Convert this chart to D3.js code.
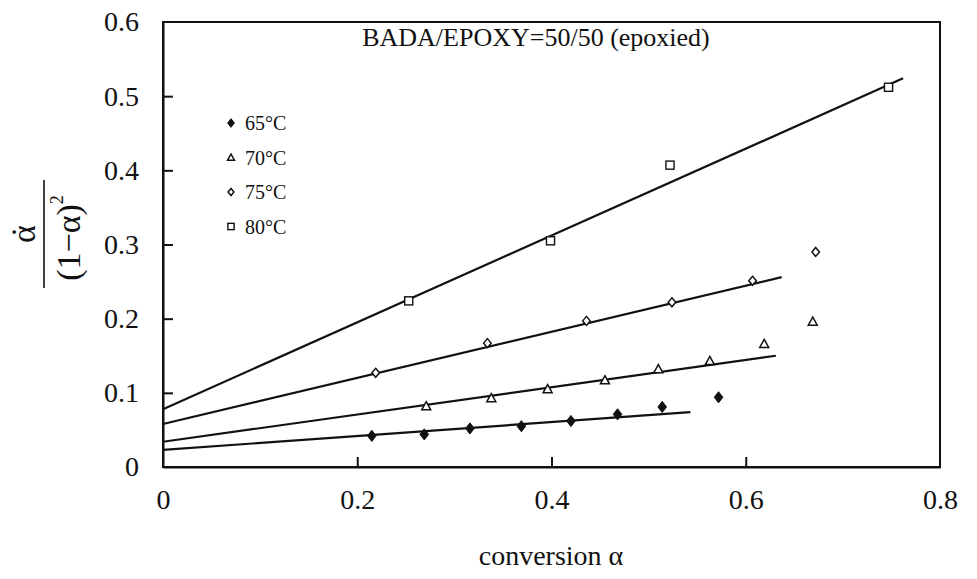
<!DOCTYPE html>
<html>
<head>
<meta charset="utf-8">
<script src="https://cdn.jsdelivr.net/npm/d3@7"></script>
<style>
  html, body { margin: 0; padding: 0; background: #fff; }
  svg text { font-family: "Liberation Serif", "Times New Roman", serif; fill: #111; }
</style>
</head>
<body>
<svg id="chart" width="977" height="579"></svg>
<script>
// ---- data ----
const seriesNames = ["65°C", "70°C", "75°C", "80°C"];
const x65 = [0.215, 0.269, 0.316, 0.369, 0.420, 0.468, 0.514, 0.572];
const y65 = [0.042, 0.044, 0.052, 0.055, 0.062, 0.071, 0.081, 0.094];
const x70 = [0.271, 0.338, 0.396, 0.455, 0.510, 0.563, 0.619, 0.669];
const y70 = [0.082, 0.093, 0.105, 0.117, 0.132, 0.143, 0.166, 0.196];
const x75 = [0.219, 0.334, 0.436, 0.524, 0.607, 0.672];
const y75 = [0.127, 0.167, 0.197, 0.222, 0.251, 0.290];
const x80 = [0.253, 0.399, 0.522, 0.747];
const y80 = [0.224, 0.305, 0.407, 0.512];
// fitted straight lines: value at alpha=0, end point
const fitY0 = [0.023, 0.034, 0.058, 0.078];
const fitX1 = [0.543, 0.631, 0.637, 0.762];
const fitY1 = [0.074, 0.150, 0.256, 0.524];
const xTicks = [0, 0.2, 0.4, 0.6, 0.8];
const yTicks = [0, 0.1, 0.2, 0.3, 0.4, 0.5, 0.6];
const titleText = "BADA/EPOXY=50/50 (epoxied)";
const xLabel = "conversion α";

// ---- layout ----
const L = 163, R = 940, T = 22, B = 467;
const svg = d3.select("#chart");
const x = d3.scaleLinear().domain([0, 0.8]).range([L, R]);
const y = d3.scaleLinear().domain([0, 0.6]).range([B, T]);

// frame
svg.append("rect").attr("x", L).attr("y", T).attr("width", R - L).attr("height", B - T)
  .attr("fill", "none").attr("stroke", "#111").attr("stroke-width", 2);

// axes (inward ticks)
const xAxis = d3.axisBottom(x).tickValues(xTicks).tickSizeInner(-10).tickSizeOuter(0)
  .tickPadding(22).tickFormat(d => d === 0 ? "0" : d3.format(".1f")(d));
const gx = svg.append("g").attr("transform", `translate(0,${B})`).call(xAxis);
gx.attr("font-family", null);
gx.select(".domain").attr("stroke", "#111").attr("stroke-width", 2);
gx.selectAll(".tick line").attr("stroke", "#111").attr("stroke-width", 2)
  .filter(d => d === 0 || d === 0.8).remove();
gx.selectAll(".tick text").attr("font-size", 28).attr("fill", "#111");

const yAxis = d3.axisLeft(y).tickValues(yTicks).tickSizeInner(-10).tickSizeOuter(0)
  .tickPadding(24).tickFormat(d => d === 0 ? "0" : d3.format(".1f")(d));
const gy = svg.append("g").attr("transform", `translate(${L},0)`).call(yAxis);
gy.attr("font-family", null);
gy.select(".domain").attr("stroke", "#111").attr("stroke-width", 2);
gy.selectAll(".tick line").attr("stroke", "#111").attr("stroke-width", 2)
  .filter(d => d === 0 || d === 0.6).remove();
gy.selectAll(".tick text").attr("font-size", 28).attr("fill", "#111");

// fit lines
const line = d3.line().x(d => x(d[0])).y(d => y(d[1]));
fitY0.forEach((y0, i) => {
  svg.append("path").attr("d", line([[0, y0], [fitX1[i], fitY1[i]]]))
    .attr("fill", "none").attr("stroke", "#111").attr("stroke-width", 2.2);
});

// markers
function marker(g, type, cx, cy, s) {
  if (type === 0) {
    g.append("path").attr("d", `M${cx},${cy - s * 0.62}L${cx + s * 0.48},${cy}L${cx},${cy + s * 0.62}L${cx - s * 0.48},${cy}Z`)
      .attr("fill", "#111").attr("stroke", "#111").attr("stroke-width", 1);
  } else if (type === 1) {
    g.append("path").attr("d", `M${cx},${cy - s * 0.5}L${cx + s * 0.5},${cy + s * 0.4}L${cx - s * 0.5},${cy + s * 0.4}Z`)
      .attr("fill", "#fff").attr("stroke", "#111").attr("stroke-width", 1.5);
  } else if (type === 2) {
    g.append("path").attr("d", `M${cx},${cy - s * 0.5}L${cx + s * 0.42},${cy}L${cx},${cy + s * 0.5}L${cx - s * 0.42},${cy}Z`)
      .attr("fill", "#fff").attr("stroke", "#111").attr("stroke-width", 1.5);
  } else {
    g.append("rect").attr("x", cx - s * 0.45).attr("y", cy - s * 0.45).attr("width", s * 0.9).attr("height", s * 0.9)
      .attr("fill", "#fff").attr("stroke", "#111").attr("stroke-width", 1.4);
  }
}
const allX = [x65, x70, x75, x80], allY = [y65, y70, y75, y80];
const gm = svg.append("g");
allX.forEach((xs, i) => {
  xs.forEach((v, j) => marker(gm, i, x(v), y(allY[i][j]), 9));
});

// legend
const lg = svg.append("g");
seriesNames.forEach((name, i) => {
  const ly = 123 + i * 34.5;
  marker(lg, i, 231, ly, 7);
  lg.append("text").attr("x", 245).attr("y", ly + 7).attr("font-size", 20).text(name);
});

// title
svg.append("text").attr("x", 536).attr("y", 46).attr("text-anchor", "middle")
  .attr("font-size", 26).text(titleText);

// x label
svg.append("text").attr("x", 551).attr("y", 565).attr("text-anchor", "middle")
  .attr("font-size", 28).text(xLabel);

// y label: fraction  α̇ / (1−α)²
const yl = svg.append("g").attr("transform", "translate(44,234) rotate(-90)");
yl.append("line").attr("x1", -54).attr("x2", 54).attr("y1", 0).attr("y2", 0)
  .attr("stroke", "#111").attr("stroke-width", 1.6);
yl.append("text").attr("x", 0).attr("y", -9).attr("text-anchor", "middle").attr("font-size", 34).text("α");
yl.append("text").attr("x", 2).attr("y", -9).attr("text-anchor", "middle").attr("font-size", 34).text("˙");
const den = yl.append("text").attr("x", -4).attr("y", 36).attr("text-anchor", "middle").attr("font-size", 34);
den.append("tspan").text("(1−α)");
den.append("tspan").attr("dy", -17).attr("font-size", 18).text("2");
</script>
</body>
</html>
